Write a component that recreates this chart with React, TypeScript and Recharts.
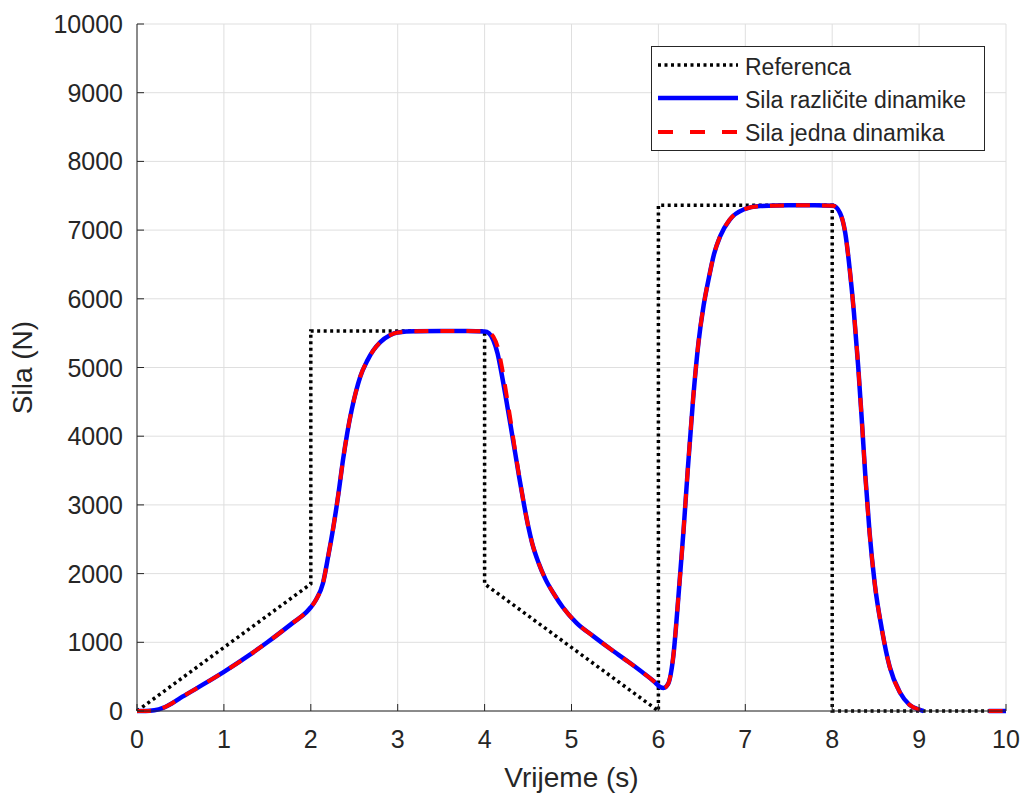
import React from 'react';
import { LineChart, Line, XAxis, YAxis, CartesianGrid } from 'recharts';

// ---------- data ----------
const timeS = [
  0, 0.1, 0.2, 0.3, 0.4, 0.5, 0.7, 1.0, 1.3, 1.5, 1.8, 1.95, 2.0, 2.06, 2.14, 2.2, 2.26, 2.32, 2.37, 2.42,
  2.47, 2.52, 2.57, 2.65, 2.72, 2.8, 2.91, 3.0, 3.2, 3.5, 3.8, 4.0, 4.05, 4.1, 4.15, 4.2, 4.25, 4.3, 4.35,
  4.4, 4.45, 4.5, 4.55, 4.62, 4.7, 4.8, 4.9, 5.06, 5.25, 5.44, 5.65, 5.83, 5.95, 6.02, 6.06, 6.11, 6.17,
  6.23, 6.29, 6.34, 6.4, 6.46, 6.52, 6.58, 6.64, 6.71, 6.82, 6.98, 7.17, 7.5, 7.8, 8.01, 8.09, 8.15, 8.2,
  8.25, 8.3, 8.34, 8.38, 8.43, 8.49, 8.57, 8.66, 8.78, 8.89, 9.01, 9.05, 9.4, 9.8, 10,
];

const silaRazliciteDinamike: (number | null)[] = [
  0, 0, 10, 45, 110, 190, 340, 570, 820, 1000, 1290, 1440, 1510, 1620, 1860, 2250, 2680, 3180, 3650, 4050,
  4380, 4650, 4870, 5100, 5250, 5370, 5470, 5510, 5528, 5530, 5530, 5525, 5500, 5400, 5200, 4880, 4520, 4150, 3770,
  3390, 3030, 2700, 2430, 2160, 1920, 1700, 1510, 1280, 1090, 910, 720, 550, 430, 350, 335, 390, 780,
  1660, 2640, 3550, 4550, 5350, 5900, 6300, 6650, 6910, 7150, 7300, 7350, 7360, 7360, 7355, 7250, 6960, 6450,
  5800, 5000, 4250, 3450, 2600, 1850, 1200, 650, 270, 90, 15, 0, null, 0, 0,
];

const silaJednaDinamika: (number | null)[] = [
  0, 0, 10, 45, 110, 190, 340, 570, 820, 1000, 1290, 1440, 1510, 1620, 1860, 2250, 2680, 3180, 3650, 4050,
  4380, 4650, 4870, 5100, 5250, 5370, 5470, 5510, 5528, 5530, 5530, 5525, 5510, 5450, 5300, 5000, 4620, 4220, 3800,
  3400, 3030, 2700, 2430, 2160, 1920, 1700, 1510, 1280, 1090, 910, 720, 550, 430, 350, 335, 390, 780,
  1660, 2640, 3550, 4550, 5350, 5900, 6300, 6650, 6910, 7150, 7300, 7350, 7360, 7360, 7355, 7250, 6960, 6450,
  5800, 5000, 4250, 3450, 2600, 1850, 1200, 650, 270, 90, 15, 0, null, 0, 0,
];

const refTime = [0, 2, 2, 4, 4, 6, 6, 8, 8, 10];
const refSila = [0, 1850, 5530, 5530, 1850, 0, 7360, 7360, 0, 0];

const xTicks = [0, 1, 2, 3, 4, 5, 6, 7, 8, 9, 10];
const yTicks = [0, 1000, 2000, 3000, 4000, 5000, 6000, 7000, 8000, 9000, 10000];

const xLabel = 'Vrijeme (s)';
const yLabel = 'Sila (N)';
const legendNames = ['Referenca', 'Sila različite dinamike', 'Sila jedna dinamika'];

// ---------- style ----------
const TEXT = '#262626';
const FONT = '"Liberation Sans", Arial, Helvetica, sans-serif';
const GRID = '#dfdfdf';
const TICK_LEN = 7;

const refData = refTime.map((t, i) => ({ t, v: refSila[i] }));
const forceData = timeS.map((t, i) => ({ t, a: silaRazliciteDinamike[i], b: silaJednaDinamika[i] }));

const BottomTick = (props: any) => {
  const { x, y, payload } = props;
  return (
    <g>
      <line x1={x} x2={x} y1={y} y2={y - TICK_LEN} stroke={TEXT} strokeWidth={1} />
      <text x={x} y={y + 37} textAnchor="middle" fontSize={25} fill={TEXT} fontFamily={FONT}>
        {payload.value}
      </text>
    </g>
  );
};

const LeftTick = (props: any) => {
  const { x, y, payload } = props;
  return (
    <g>
      <line x1={x} x2={x + TICK_LEN} y1={y} y2={y} stroke={TEXT} strokeWidth={1} />
      <text x={x - 14} y={y + 9} textAnchor="end" fontSize={25} fill={TEXT} fontFamily={FONT}>
        {payload.value}
      </text>
    </g>
  );
};

const TopTick = (props: any) => {
  const { x, y } = props;
  return <line x1={x} x2={x} y1={y} y2={y + TICK_LEN} stroke={TEXT} strokeWidth={1} />;
};

const RightTick = (props: any) => {
  const { x, y } = props;
  return <line x1={x} x2={x - TICK_LEN} y1={y} y2={y} stroke={TEXT} strokeWidth={1} />;
};

const XLabel = (props: any) => {
  const vb = props.viewBox;
  return (
    <text x={vb.x + vb.width / 2} y={vb.y + 76} textAnchor="middle" fontSize={28} fill={TEXT} fontFamily={FONT}>
      {xLabel}
    </text>
  );
};

const YLabel = (props: any) => {
  const vb = props.viewBox;
  const x = vb.x + 32;
  const y = vb.y + vb.height / 2;
  return (
    <text x={x} y={y} transform={`rotate(-90, ${x}, ${y})`} textAnchor="middle" fontSize={28} fill={TEXT} fontFamily={FONT}>
      {yLabel}
    </text>
  );
};

const LegendBox = () => (
  <svg
    width={335}
    height={106}
    style={{ position: 'absolute', left: 651, top: 46, overflow: 'visible' }}
  >
    <rect x={0.5} y={0.5} width={333} height={104} fill="#ffffff" stroke={TEXT} strokeWidth={1} />
    <line x1={7} x2={87} y1={19} y2={19} stroke="#000000" strokeWidth={3.5} strokeDasharray="3 3.5" />
    <line x1={7} x2={87} y1={52} y2={52} stroke="#0000ff" strokeWidth={4.5} />
    <line x1={7} x2={87} y1={86} y2={86} stroke="#ff0000" strokeWidth={4} strokeDasharray="15 17" />
    <text x={94} y={29} fontSize={23} fill={TEXT} fontFamily={FONT}>{legendNames[0]}</text>
    <text x={94} y={62} fontSize={23} fill={TEXT} fontFamily={FONT}>{legendNames[1]}</text>
    <text x={94} y={95} fontSize={23} fill={TEXT} fontFamily={FONT}>{legendNames[2]}</text>
  </svg>
);

export default function App() {
  return (
    <div style={{ position: 'absolute', left: 0, top: 0, width: 1024, height: 794, background: '#ffffff' }}>
      <LineChart width={1024} height={794} margin={{ top: 24, right: 18, bottom: 0, left: 0 }}>
        <CartesianGrid stroke={GRID} strokeWidth={1} />
        <XAxis
          dataKey="t"
          type="number"
          domain={[0, 10]}
          ticks={xTicks}
          height={83}
          axisLine={{ stroke: TEXT, strokeWidth: 1 }}
          tickLine={false}
          tickSize={0}
          tickMargin={0}
          tick={BottomTick}
          interval={0}
          label={XLabel}
        />
        <XAxis
          xAxisId="top"
          orientation="top"
          type="number"
          domain={[0, 10]}
          ticks={xTicks}
          height={0}
          axisLine={{ stroke: TEXT, strokeWidth: 1 }}
          tickLine={false}
          tickSize={0}
          tickMargin={0}
          tick={TopTick}
          interval={0}
        />
        <YAxis
          type="number"
          domain={[0, 10000]}
          ticks={yTicks}
          width={137}
          axisLine={{ stroke: TEXT, strokeWidth: 1 }}
          tickLine={false}
          tickSize={0}
          tickMargin={0}
          tick={LeftTick}
          interval={0}
          label={YLabel}
        />
        <YAxis
          yAxisId="right"
          orientation="right"
          type="number"
          domain={[0, 10000]}
          ticks={yTicks}
          width={0}
          axisLine={{ stroke: TEXT, strokeWidth: 1 }}
          tickLine={false}
          tickSize={0}
          tickMargin={0}
          tick={RightTick}
          interval={0}
        />
        <Line
          data={refData}
          dataKey="v"
          type="linear"
          stroke="#000000"
          strokeWidth={3.5}
          strokeDasharray="3 3.5"
          dot={false}
          activeDot={false}
          isAnimationActive={false}
        />
        <Line
          data={forceData}
          dataKey="a"
          type="monotone"
          stroke="#0000ff"
          strokeWidth={4.5}
          dot={false}
          activeDot={false}
          connectNulls={false}
          isAnimationActive={false}
        />
        <Line
          data={forceData}
          dataKey="b"
          type="monotone"
          stroke="#ff0000"
          strokeWidth={4}
          strokeDasharray="14 12"
          dot={false}
          activeDot={false}
          connectNulls={false}
          isAnimationActive={false}
        />
      </LineChart>
      <LegendBox />
    </div>
  );
}
